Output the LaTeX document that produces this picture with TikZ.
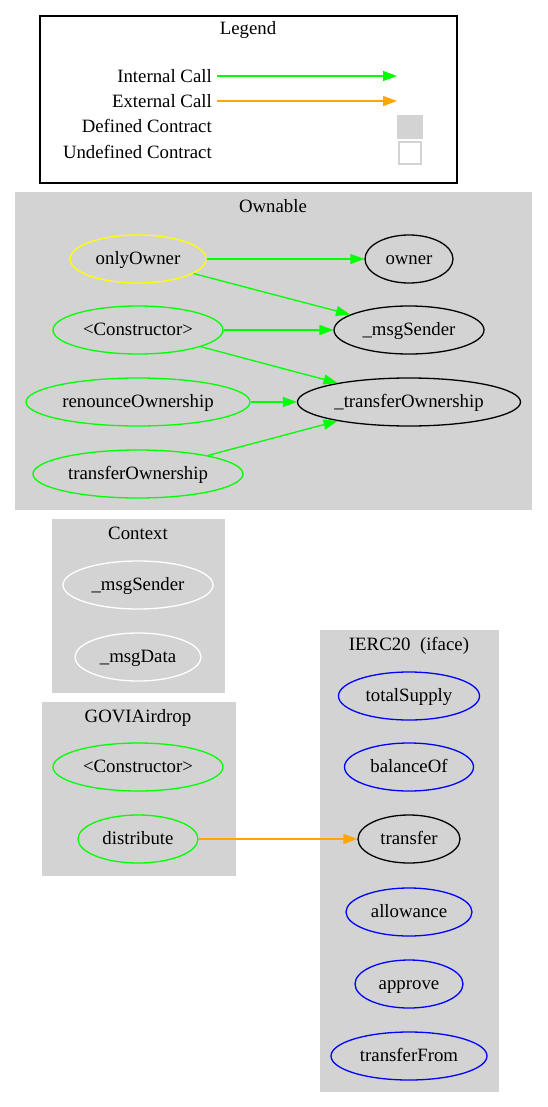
\documentclass[tikz,border=0pt]{standalone}
\usepackage{fontspec}
\setmainfont{Liberation Serif}
\usetikzlibrary{arrows.meta, positioning, shapes.geometric}
\definecolor{clustergray}{RGB}{211,211,211}
\definecolor{callgreen}{RGB}{0,255,0}
\definecolor{callorange}{RGB}{255,165,0}
\definecolor{modyellow}{RGB}{255,255,0}
\definecolor{ifaceblue}{RGB}{0,0,255}

\begin{document}
\begin{tikzpicture}[x=1pt, y=-1pt,
  every node/.style={font=\fontsize{18.8}{22}\selectfont, text height=14pt, text depth=4pt},
  fn/.style={ellipse, draw=black, line width=1.3pt, minimum height=48pt, inner sep=0pt},
  cluster/.style={fill=clustergray, draw=clustergray},
  leglabel/.style={anchor=east, inner sep=5pt, text height=15.5pt, text depth=2.5pt},
  internal/.style={callgreen, line width=1.3pt, -{Triangle[length=14pt, width=10pt]}},
  external/.style={callorange, line width=1.3pt, -{Triangle[length=14pt, width=10pt]}}]
  \useasboundingbox (0,0) rectangle (547,1107);
  % Legend
  \draw[line width=1.3pt] (40,16) rectangle (457,183);
  \node (legendtitle) at (248,30) {Legend};
  \node[leglabel] (intlabel) at (217,76) {Internal Call};
  \node[leglabel] (extlabel) at (217,101) {External Call};
  \node[leglabel] (deflabel) at (217,126) {Defined Contract};
  \node[leglabel] (undeflabel) at (217,152) {Undefined Contract};
  \coordinate (intend) at (397,76);
  \coordinate (extend) at (397,101);
  \draw[internal] (intlabel) -- (intend);
  \draw[external] (extlabel) -- (extend);
  \node[fill=clustergray, minimum width=26pt, minimum height=24pt, inner sep=0pt, text height=0pt, text depth=0pt] (defbox) at (410,127) {};
  \node[draw=clustergray, fill=white, line width=1.3pt, minimum size=22pt, inner sep=0pt, text height=0pt, text depth=0pt] (undefbox) at (410,153) {};
  % Clusters
  \draw[cluster] (15,192) rectangle (531,509);
  \draw[cluster] (52,519) rectangle (224,692);
  \draw[cluster] (42,702) rectangle (235,875);
  \draw[cluster] (320,630) rectangle (498,1091);
  \node (ownabletitle) at (273,208) {Ownable};
  \node (contexttitle) at (138,534) {Context};
  \node (govititle) at (138,717) {GOVIAirdrop};
  \node (ierctitle) at (409,645) {IERC20~ (iface)};
  % Ownable
  \node[fn, draw=modyellow, minimum width=136pt] (onlyowner) at (138,259) {onlyOwner};
  \node[fn, minimum width=88pt] (owner) at (409,259) {owner};
  \node[fn, draw=callgreen, minimum width=170pt] (ownctor) at (138,330) {<Constructor>};
  \node[fn, minimum width=150pt] (msgsender) at (409,330) {\_msgSender};
  \node[fn, draw=callgreen, minimum width=224pt] (renounce) at (138,402) {renounceOwnership};
  \node[fn, minimum width=223pt] (innertransfer) at (409,402) {\_transferOwnership};
  \node[fn, draw=callgreen, minimum width=210pt] (transferown) at (138,474) {transferOwnership};
  % Context
  \node[fn, draw=white, minimum width=150pt] (ctxsender) at (138,585) {\_msgSender};
  \node[fn, draw=white, minimum width=126pt] (ctxdata) at (138,657) {\_msgData};
  % GOVIAirdrop
  \node[fn, draw=callgreen, minimum width=170pt] (govictor) at (138,767) {<Constructor>};
  \node[fn, draw=callgreen, minimum width=120pt] (distribute) at (138,839) {distribute};
  % IERC20
  \node[fn, draw=ifaceblue, minimum width=141pt] (totalsupply) at (409,696) {totalSupply};
  \node[fn, draw=ifaceblue, minimum width=129pt] (balanceof) at (409,767) {balanceOf};
  \node[fn, minimum width=102pt] (transfer) at (409,839) {transfer};
  \node[fn, draw=ifaceblue, minimum width=126pt] (allowance) at (409,912) {allowance};
  \node[fn, draw=ifaceblue, minimum width=108pt] (approve) at (409,984) {approve};
  \node[fn, draw=ifaceblue, minimum width=156pt] (transferfrom) at (409,1056) {transferFrom};
  % Calls
  \draw[internal] (onlyowner) -- (owner);
  \draw[internal] (onlyowner) -- (msgsender);
  \draw[internal] (ownctor) -- (msgsender);
  \draw[internal] (ownctor) -- (innertransfer);
  \draw[internal] (renounce) -- (innertransfer);
  \draw[internal] (transferown) -- (innertransfer);
  \draw[external] (distribute) -- (transfer);
\end{tikzpicture}
\end{document}
